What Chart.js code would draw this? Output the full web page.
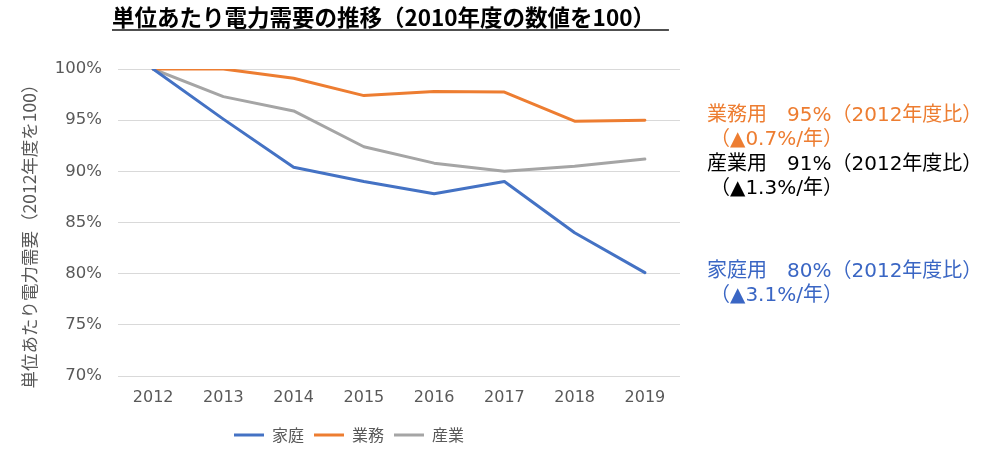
<!DOCTYPE html>
<html>
<head>
<meta charset="utf-8">
<script src="https://cdn.jsdelivr.net/npm/chart.js@4.4.1/dist/chart.umd.min.js"></script>
<style>
  html, body { margin: 0; padding: 0; background: #ffffff; }
  #wrap { width: 1000px; height: 453px; position: relative; }
</style>
</head>
<body>
<div id="wrap"><canvas id="c" width="1000" height="453"></canvas></div>
<script>
// ---- data ----
const years = ['2012', '2013', '2014', '2015', '2016', '2017', '2018', '2019'];
const seriesNames = ['家庭', '業務', '産業'];
const household = [100, 95.1, 90.4, 89.0, 87.8, 89.0, 84.0, 80.1];
const business  = [100, 100, 99.1, 97.4, 97.8, 97.75, 94.9, 95.0];
const industry  = [100, 97.3, 95.9, 92.4, 90.8, 90.0, 90.5, 91.2];
const yTicks = [70, 75, 80, 85, 90, 95, 100];
const titleText = '単位あたり電力需要の推移（2010年度の数値を100）';
const yAxisTitle = '単位あたり電力需要（2012年度を100）';
const noteBusiness = ['業務用　95%（2012年度比）', '（▲0.7%/年）'];
const noteIndustry = ['産業用　91%（2012年度比）', '（▲1.3%/年）'];
const noteHousehold = ['家庭用　80%（2012年度比）', '（▲3.1%/年）'];

const FONT = "'DejaVu Sans', 'Noto Sans CJK JP', sans-serif";
const CJK = "'Noto Sans CJK JP', 'DejaVu Sans', sans-serif";
const colors = { blue: '#4472C4', orange: '#ED7D31', gray: '#A5A5A5' };

const overlay = {
  id: 'overlay',
  afterDraw(chart) {
    const ctx = chart.ctx;
    ctx.save();
    // title
    ctx.font = "bold 22.5px 'Noto Sans CJK JP', sans-serif";
    ctx.fillStyle = '#000000';
    ctx.textBaseline = 'middle';
    ctx.textAlign = 'left';
    const tx = 112;
    ctx.fillText(titleText, tx, 17);
    const tw = ctx.measureText(titleText).width;
    ctx.strokeStyle = '#505050';
    ctx.lineWidth = 2;
    ctx.beginPath();
    ctx.moveTo(tx, 30);
    ctx.lineTo(tx + tw + 14, 30);
    ctx.stroke();
    // y-axis title
    ctx.save();
    ctx.translate(29, 232);
    ctx.rotate(-Math.PI / 2);
    ctx.textAlign = 'center';
    ctx.fillStyle = '#595959';
    ctx.font = "17.5px " + CJK;
    ctx.fillText(yAxisTitle, 0, 0);
    ctx.restore();
    // notes
    ctx.font = "20px " + FONT;
    const drawNote = (lines, color, y0) => {
      ctx.fillStyle = color;
      ctx.fillText(lines[0], 707, y0);
      ctx.fillText(lines[1], 710, y0 + 24);
    };
    drawNote(noteBusiness, '#ED7D31', 116);
    drawNote(noteIndustry, '#000000', 165);
    drawNote(noteHousehold, '#3A66C4', 272);
    ctx.restore();
  }
};

new Chart(document.getElementById('c'), {
  type: 'line',
  data: {
    labels: years,
    datasets: [
      { label: seriesNames[0], data: household, borderColor: colors.blue, backgroundColor: colors.blue, borderWidth: 3 },
      { label: seriesNames[1], data: business, borderColor: colors.orange, backgroundColor: colors.orange, borderWidth: 3 },
      { label: seriesNames[2], data: industry, borderColor: colors.gray, backgroundColor: colors.gray, borderWidth: 3 }
    ]
  },
  options: {
    responsive: false,
    animation: false,
    devicePixelRatio: 1,
    layout: { padding: { top: 69, left: 18, right: 320, bottom: 0 } },
    elements: {
      line: { borderWidth: 3, tension: 0, borderCapStyle: 'round', borderJoinStyle: 'round' },
      point: { radius: 0, hoverRadius: 0 }
    },
    plugins: {
      legend: {
        position: 'bottom',
        labels: {
          usePointStyle: true,
          pointStyle: 'line',
          pointStyleWidth: 30,
          boxHeight: 15,
          padding: 10,
          color: '#595959',
          font: { family: CJK, size: 16 }
        }
      },
      tooltip: { enabled: false },
      title: { display: false }
    },
    scales: {
      x: {
        offset: true,
        grid: { display: false, drawTicks: false },
        border: { display: false },
        ticks: { color: '#595959', font: { family: FONT, size: 16 }, padding: 12 },
        afterFit(scale) { scale.height = 41; }
      },
      y: {
        min: 70, max: 100,
        afterBuildTicks(scale) { scale.ticks = yTicks.map(v => ({ value: v })); },
        grid: { color: '#D9D9D9', lineWidth: 1, drawTicks: false },
        border: { display: false },
        ticks: { color: '#595959', font: { family: FONT, size: 16.5 }, padding: 16, callback: v => v + '%' },
        afterFit(scale) { scale.width = 100; }
      }
    }
  },
  plugins: [overlay]
});
</script>
</body>
</html>
